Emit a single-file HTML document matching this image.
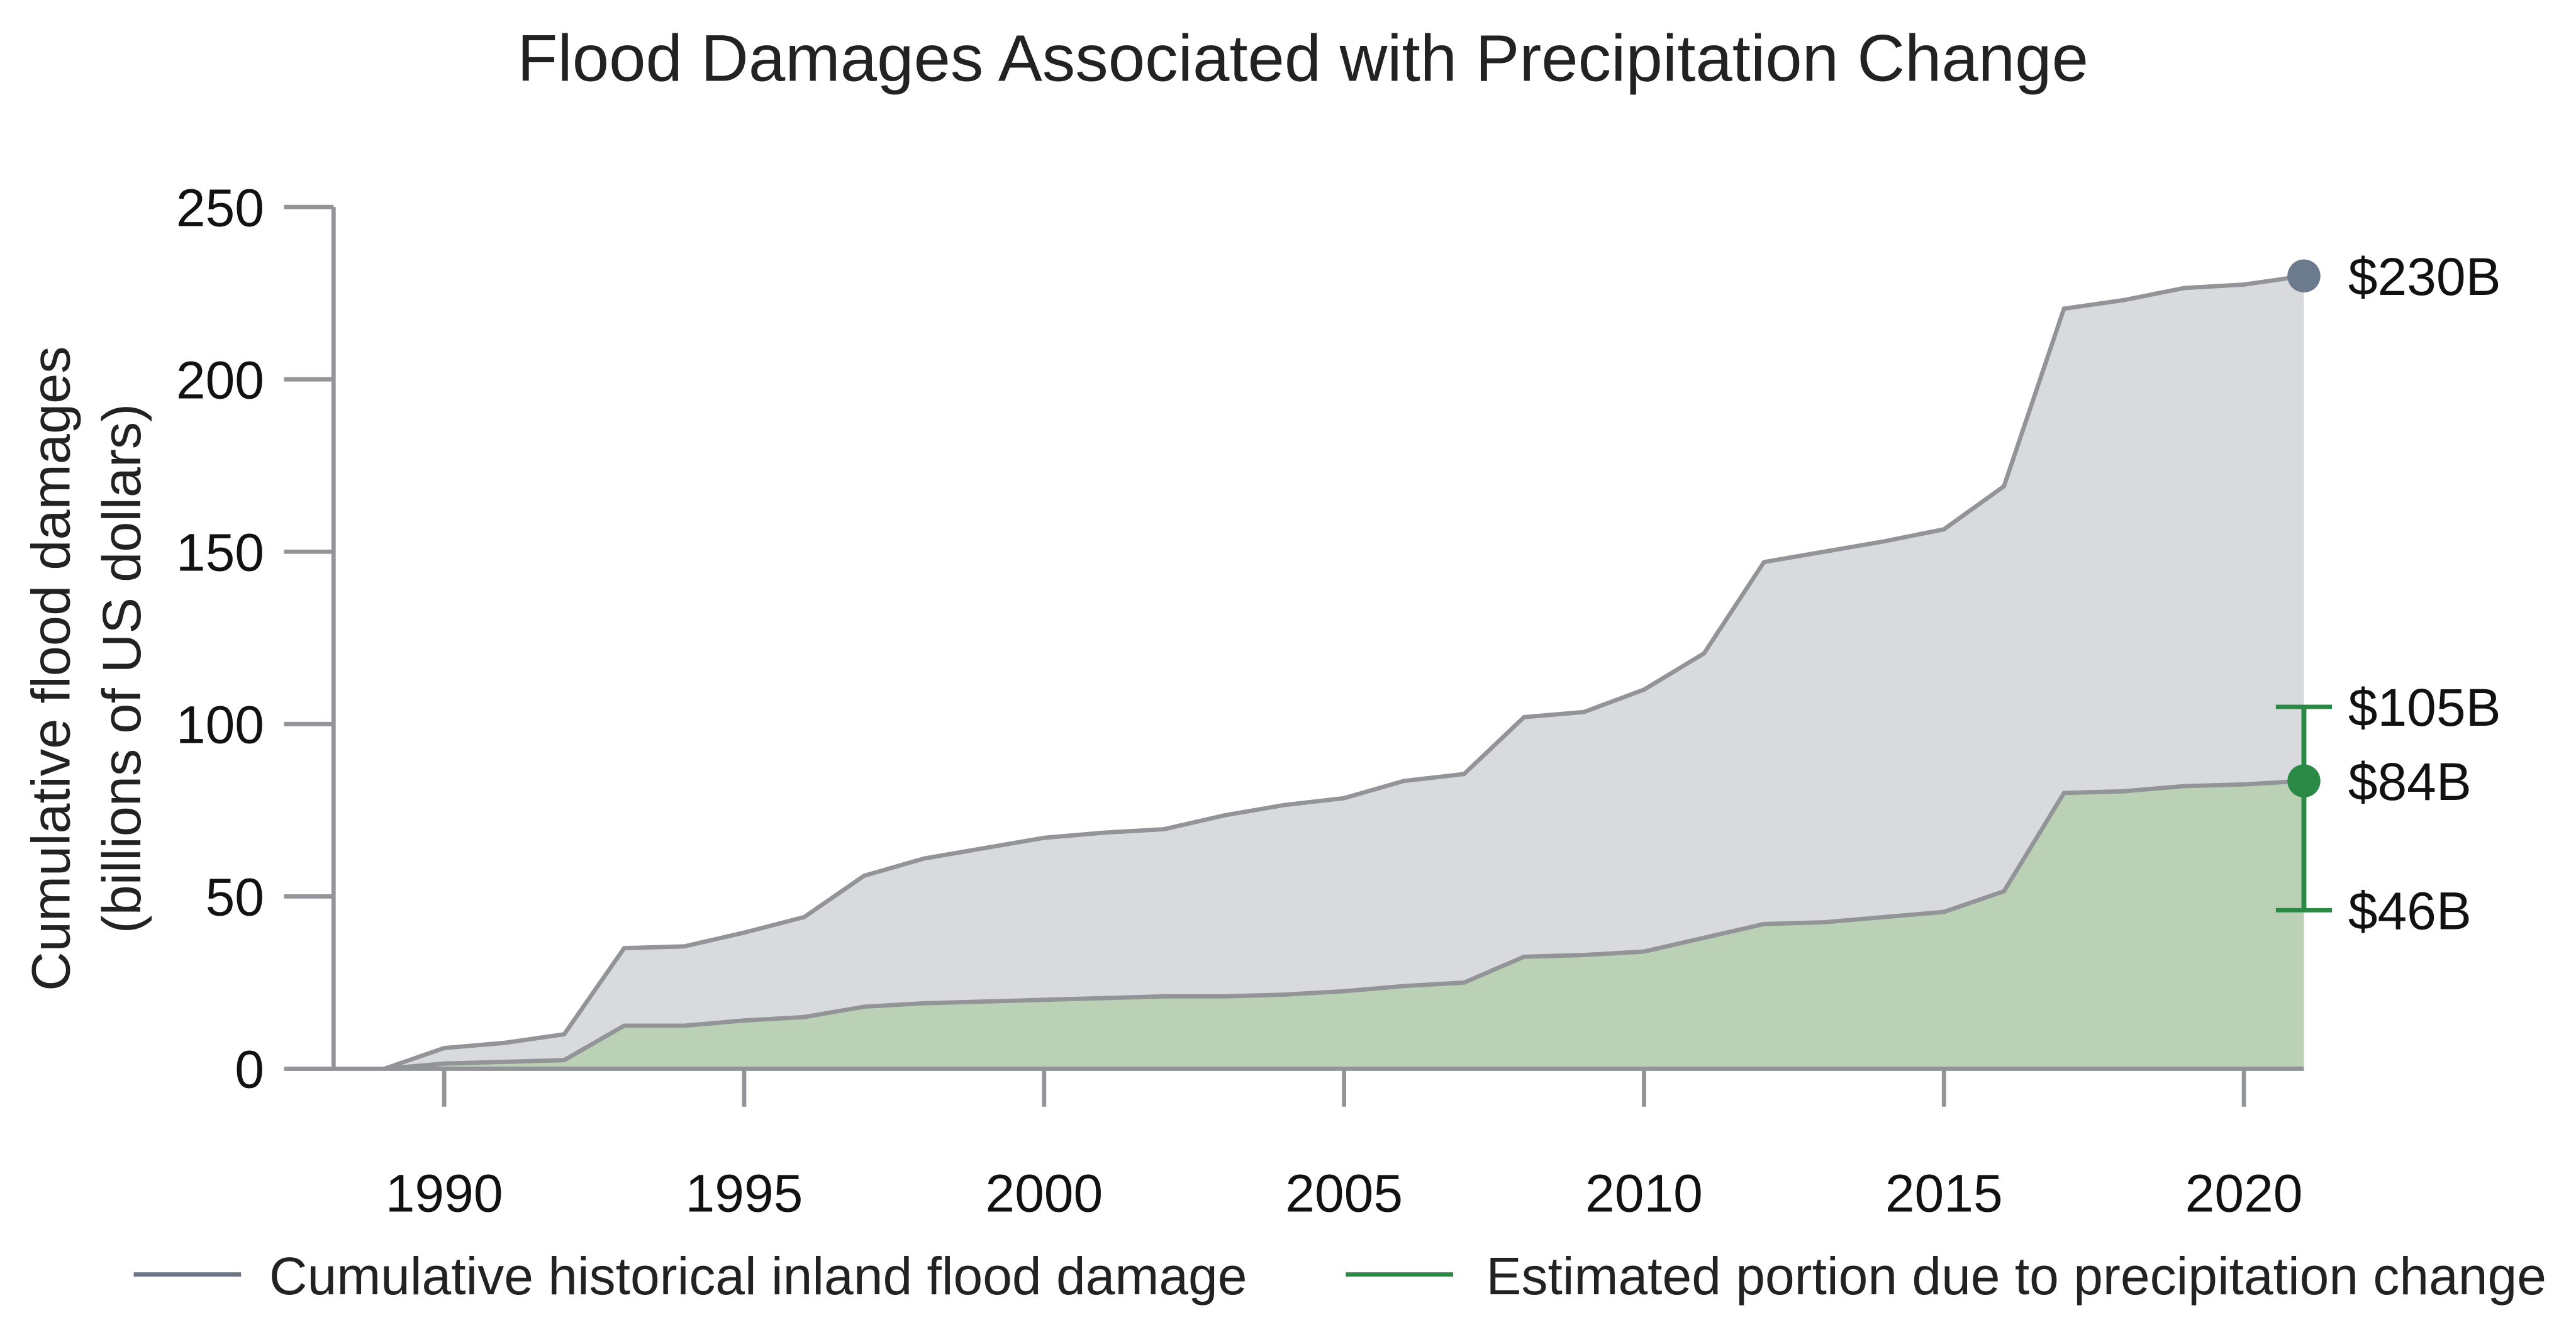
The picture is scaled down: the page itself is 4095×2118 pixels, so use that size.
<!DOCTYPE html>
<html><head><meta charset="utf-8"><style>
html,body{margin:0;padding:0;background:#fff;}
svg{display:block;font-family:"Liberation Sans",Arial,sans-serif;}
</style></head><body>
<svg id="chart" width="4095" height="2118" viewBox="0 0 1560 806.86" xmlns="http://www.w3.org/2000/svg">
<text x="789" y="49" font-size="40" text-anchor="middle" fill="#222">Flood Damages Associated with Precipitation Change</text>
<text transform="translate(42,405) rotate(-90)" font-size="33" text-anchor="middle" fill="#222"><tspan x="0" dy="0">Cumulative flood damages</tspan><tspan x="0" dy="43">(billions of US dollars)</tspan></text>
<g id="plot"></g>
<g>
<line x1="81" y1="772" x2="146" y2="772" stroke="#6b7585" stroke-width="2.6"/>
<text x="163" y="784" font-size="32" fill="#222">Cumulative historical inland flood damage</text>
<line x1="815" y1="772" x2="880" y2="772" stroke="#2a8a45" stroke-width="2.6"/>
<text x="900" y="784" font-size="32" fill="#222">Estimated portion due to precipitation change</text>
</g>
</svg>
<script>
const years = [1989,1990,1991,1992,1993,1994,1995,1996,1997,1998,1999,2000,2001,2002,2003,2004,2005,2006,2007,2008,2009,2010,2011,2012,2013,2014,2015,2016,2017,2018,2019,2020,2021];
const totalDamage = [0,6,7.5,10,35,35.5,39.5,44,56,61,64,67,68.5,69.5,73.5,76.5,78.5,83.5,85.5,102,103.5,110,120.5,147,150,153,156.5,169,220.5,223,226.5,227.5,230];
const precipDamage = [0,1.5,2,2.5,12.5,12.5,14,15,18,19,19.5,20,20.5,21,21,21.5,22.5,24,25,32.5,33,34,38,42,42.5,44,45.5,51.5,80,80.5,82,82.5,83.5];
const yTicks = [0,50,100,150,200,250];
const xTicks = [1990,1995,2000,2005,2010,2015,2020];
const errLow = 46, errHigh = 105;
const endLabels = ["$230B","$105B","$84B","$46B"];

const NS="http://www.w3.org/2000/svg";
const g=document.getElementById('plot');
const X=yr=>269+(yr-1990)*36.33;
const Y=v=>647.4-v*2.088;
function mk(tag,attrs){const e=document.createElementNS(NS,tag);for(const k in attrs)e.setAttribute(k,attrs[k]);g.appendChild(e);return e;}
const pts=(arr)=>arr.map((v,i)=>X(years[i])+','+Y(v)).join(' ');
const last=years.length-1;
const SW=2.6;
let e;
e=mk('polygon',{points:pts(totalDamage)+' '+X(years[last])+','+Y(0)+' '+X(years[0])+','+Y(0),fill:'#d9dade'});


e=mk('polygon',{points:pts(precipDamage)+' '+X(years[last])+','+Y(0)+' '+X(years[0])+','+Y(0),fill:'#bbd1b6'});


e=mk('polyline',{points:pts(totalDamage),fill:'none',stroke:'#939498','stroke-width':SW});


e=mk('polyline',{points:pts(precipDamage),fill:'none',stroke:'#939498','stroke-width':SW});


e=mk('line',{x1:202,y1:Y(250),x2:202,y2:Y(0),stroke:'#939498','stroke-width':SW});


e=mk('line',{x1:174,y1:Y(0),x2:X(2021),y2:Y(0),stroke:'#939498','stroke-width':SW});


yTicks.forEach(t=>{
  e=mk('line',{x1:172,y1:Y(t),x2:202,y2:Y(t),stroke:'#939498','stroke-width':SW});
  
  
  e=mk('text',{x:160,y:Y(t)+11.5,'font-size':32,'text-anchor':'end',fill:'#111'});e.textContent=t;
  
  
});
xTicks.forEach(t=>{
  e=mk('line',{x1:X(t),y1:Y(0),x2:X(t),y2:Y(0)+23,stroke:'#939498','stroke-width':SW});
  
  
  e=mk('text',{x:X(t),y:734,'font-size':32,'text-anchor':'middle',fill:'#111'});e.textContent=t;
  
  
});
const ex=X(years[last]);
e=mk('line',{x1:ex,y1:Y(errHigh),x2:ex,y2:Y(errLow),stroke:'#2a8a45','stroke-width':3});


[errHigh,errLow].forEach(v=>{
  e=mk('line',{x1:ex-17,y1:Y(v),x2:ex+17,y2:Y(v),stroke:'#2a8a45','stroke-width':2.6});
  
  
});
e=mk('circle',{cx:ex,cy:Y(totalDamage[last]),r:10,fill:'#6b7a8c'});


e=mk('circle',{cx:ex,cy:Y(precipDamage[last]),r:10,fill:'#2a8a45'});


const labVals=[totalDamage[last],errHigh,precipDamage[last],errLow];
labVals.forEach((v,i)=>{
  e=mk('text',{x:1422,y:Y(v)+11.5,'font-size':32,fill:'#111'});e.textContent=endLabels[i];
  
  
});
</script>
</body></html>
